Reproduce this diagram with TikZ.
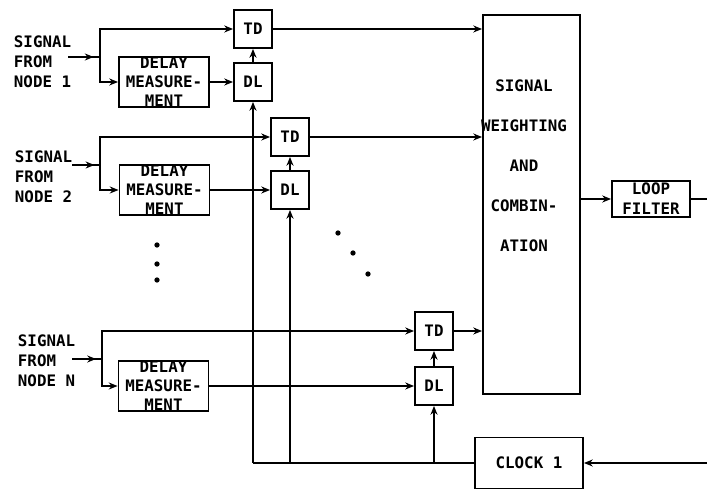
\documentclass[tikz,border=0pt]{standalone}
\usepackage{fontspec}
\setmainfont{DejaVu Sans Mono}
\usetikzlibrary{arrows.meta, decorations.markings}

\begin{document}
\begin{tikzpicture}[
  x=0.02cm, y=-0.02cm, line width=1.1pt,
  every node/.style={font=\fontsize{9}{10.8}\selectfont\bfseries},
  lbl/.style={align=left, anchor=west, inner sep=0pt,
              font=\fontsize{9}{11.4}\selectfont\bfseries},
  dmbox/.style={draw, minimum width=1.8cm, minimum height=1.0cm, align=center, inner sep=0pt},
  tdbox/.style={draw, minimum width=0.76cm, minimum height=0.76cm, inner sep=1pt},
  bigbox/.style={draw, minimum width=1.94cm, minimum height=7.58cm},
  lfbox/.style={draw, minimum width=1.56cm, minimum height=0.72cm, align=center, inner sep=1pt,
                font=\fontsize{9}{11.4}\selectfont\bfseries},
  clkbox/.style={draw, minimum width=2.16cm, minimum height=1.02cm},
  arrow/.style={-{Stealth[length=5pt, width=4pt]}},
  midarrow/.style={decoration={markings,
                   mark=at position 0.8 with {\arrow{Stealth[length=5pt, width=4pt]}}},
                   postaction={decorate}},
]
\fill[white] (0,0) rectangle (707,492);
\useasboundingbox (0,0) rectangle (707,492);

% Row 1: signal from node 1
\node[lbl] (sig1) at (13,62) {SIGNAL\\FROM\\NODE 1};
\coordinate (in1) at (68,57);
\coordinate (b1) at (100,57);
\node[dmbox] (dm1) at (164,82) {DELAY\\MEASURE-\\MENT};
\node[tdbox] (td1) at (253,29) {TD};
\node[tdbox] (dl1) at (253,82) {DL};

% Row 2: signal from node 2
\node[lbl] (sig2) at (14,177) {SIGNAL\\FROM\\NODE 2};
\coordinate (in2) at (72,165);
\coordinate (b2) at (100,165);
\node[dmbox] (dm2) at (164.5,190) {DELAY\\MEASURE-\\MENT};
\node[tdbox] (td2) at (290,137) {TD};
\node[tdbox] (dl2) at (290,190) {DL};

% Row N: signal from node N
\node[lbl] (sigN) at (17,361) {SIGNAL\\FROM\\NODE N};
\coordinate (inN) at (72,359);
\coordinate (bN) at (102,359);
\node[dmbox] (dmN) at (163.5,386) {DELAY\\MEASURE-\\MENT};
\node[tdbox] (tdN) at (434,331) {TD};
\node[tdbox] (dlN) at (434,386) {DL};

% Combiner, loop filter and clock
\node[bigbox] (swc) at (531.5,204.5) {};
\node[align=center, font=\fontsize{9}{22.8}\selectfont\bfseries] (swclbl) at (524,166)
  {SIGNAL\\WEIGHTING\\AND\\COMBIN-\\ATION};
\node[lfbox] (lf) at (651,199) {LOOP\\FILTER};
\coordinate (lfout) at (707,199);
\node[clkbox] (clk) at (529,463) {CLOCK 1};
\coordinate (clkin) at (707,463);

% Row connectors
\draw[midarrow] (in1) -- (b1);
\draw[arrow] (b1) |- (td1);
\draw[arrow] (b1) |- (dm1);
\draw[arrow] (dm1) -- (dl1);
\draw[arrow] (dl1) -- (td1);
\draw[arrow] (td1) -- (td1 -| swc.west);

\draw[midarrow] (in2) -- (b2);
\draw[arrow] (b2) |- (td2);
\draw[arrow] (b2) |- (dm2);
\draw[arrow] (dm2) -- (dl2);
\draw[arrow] (dl2) -- (td2);
\draw[arrow] (td2) -- (td2 -| swc.west);

\draw[midarrow] (inN) -- (bN);
\draw[arrow] (bN) |- (tdN);
\draw[arrow] (bN) |- (dmN);
\draw[arrow] (dmN) -- (dlN);
\draw[arrow] (dlN) -- (tdN);
\draw[arrow] (tdN) -- (tdN -| swc.west);

% Combiner output
\draw[arrow] (swc.east |- lf) -- (lf);
\draw (lf) -- (lfout);

% Clock bus
\draw[arrow] (clkin) -- (clk);
\draw (clk) -- (clk -| dl1);
\draw[arrow] (clk -| dl1) -- (dl1);
\draw[arrow] (clk -| dl2) -- (dl2);
\draw[arrow] (clk -| dlN) -- (dlN);

% Ellipsis dots
\fill (157,245) circle (1.5pt);
\fill (157,264) circle (1.5pt);
\fill (157,280) circle (1.5pt);
\fill (338,233) circle (1.5pt);
\fill (353,253) circle (1.5pt);
\fill (368,274) circle (1.5pt);

\end{tikzpicture}
\end{document}
